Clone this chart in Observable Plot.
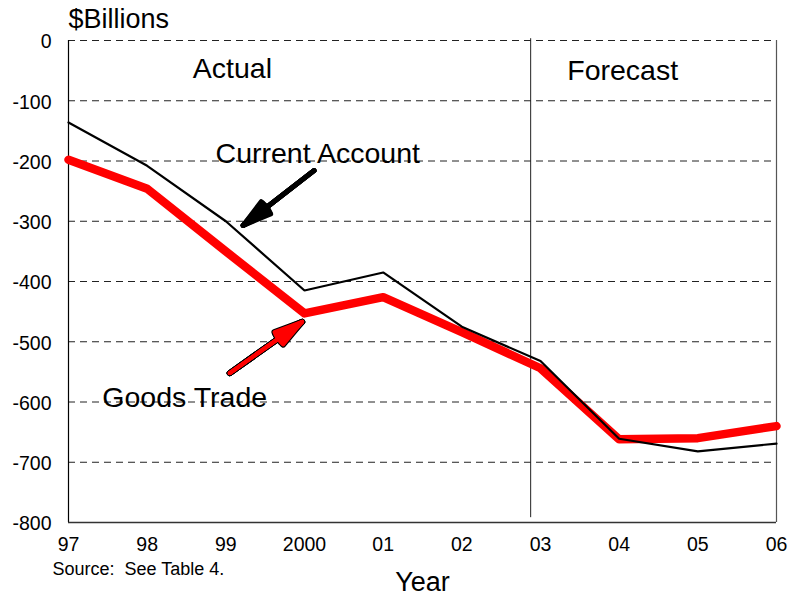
<!DOCTYPE html>
<html>
<head>
<meta charset="utf-8">
<script src="https://cdn.jsdelivr.net/npm/d3@7"></script>
<script src="https://cdn.jsdelivr.net/npm/@observablehq/plot@0.6"></script>
<style>
  html, body { margin: 0; padding: 0; background: #fff; }
  #chart svg { display: block; }
</style>
</head>
<body>
<div id="chart"></div>
<script>
// ---- data ----
const years = [1997, 1998, 1999, 2000, 2001, 2002, 2003, 2004, 2005, 2006];
const xTickLabels = ["97", "98", "99", "2000", "01", "02", "03", "04", "05", "06"];
const currentAccount = [-136, -208, -300, -415, -385, -475, -532, -661, -682, -669];
const goodsTrade = [-198, -246, -350, -453, -426, -484, -544, -662, -660, -640];
const yTicks = [0, -100, -200, -300, -400, -500, -600, -700, -800];
const gridLevels = [-100, -200, -300, -400, -500, -600, -700];
const forecastStart = 2002.875;
const labels = [
  {text: "Actual", year: 1998.58, value: -46.5},
  {text: "Forecast", year: 2003.34, value: -50},
  {text: "Current Account", year: 1998.87, value: -187.5},
  {text: "Goods Trade", year: 1997.43, value: -593}
];
const blackArrow = {x1: 2000.12, y1: -216, x2: 1999.22, y2: -307};
const redArrow = {x1: 1999.05, y1: -552, x2: 1999.97, y2: -467};
// head angles used to fill the arrow heads
const headAngles = [30, 24, 18, 12, 6];

const rowsCA = years.map((y, i) => ({year: y, value: currentAccount[i]}));
const rowsGT = years.map((y, i) => ({year: y, value: goodsTrade[i]}));

const font = "'Liberation Sans', Arial, Helvetica, sans-serif";

const headMarks = (a, stroke, width, len) =>
  headAngles.map(ang => Plot.arrow([a], {x1: "x1", y1: "y1", x2: "x2", y2: "y2", stroke, strokeWidth: width, headLength: len, headAngle: ang}));

const chart = Plot.plot({
  width: 789,
  height: 598,
  marginLeft: 68,
  marginRight: 13,
  marginTop: 40,
  marginBottom: 76,
  style: {fontFamily: font, background: "#fff", color: "#000"},
  x: {domain: [1997, 2006], label: null},
  y: {domain: [-800, 0], label: null},
  marks: [
    // grid
    Plot.ruleY(gridLevels, {stroke: "#222", strokeWidth: 1, strokeDasharray: "7,5"}),
    Plot.ruleY([0], {stroke: "#222", strokeWidth: 1, strokeDasharray: "7,5"}),
    // frame
    Plot.ruleX([1997], {stroke: "#000", strokeWidth: 1.2}),
    Plot.ruleX([2006], {stroke: "#555", strokeWidth: 1.2}),
    Plot.ruleY([-800], {stroke: "#333", strokeWidth: 1.5}),
    // forecast divider
    Plot.ruleX([forecastStart], {y1: -792, y2: 3, stroke: "#222", strokeWidth: 1}),
    // series
    Plot.line(rowsGT, {x: "year", y: "value", stroke: "#ff0000", strokeWidth: 8.5, strokeLinecap: "round", strokeLinejoin: "round"}),
    Plot.line(rowsCA, {x: "year", y: "value", stroke: "#000", strokeWidth: 2.2, strokeLinejoin: "miter"}),
    // arrows
    ...headMarks(blackArrow, "#000", 5, 15),
    ...headMarks(redArrow, "#000", 6, 15),
    ...headMarks(redArrow, "#ff0000", 3.8, 12.5),
    // annotations
    Plot.text(labels, {x: "year", y: "value", text: "text", textAnchor: "start", fontSize: 28.5, fill: "#000"}),
    // axes
    Plot.axisY({ticks: yTicks, tickSize: 0, tickPadding: 17, fontSize: 19.5, dy: 1.5, tickFormat: d => String(d)}),
    Plot.axisX({ticks: years, tickSize: 0, tickPadding: 15, fontSize: 19.5, tickFormat: d => xTickLabels[years.indexOf(d)]}),
    // titles
    Plot.text(["$Billions"], {frameAnchor: "top-left", textAnchor: "start", lineAnchor: "middle", dy: -21, fontSize: 27, fill: "#000"}),
    Plot.text(["Year"], {frameAnchor: "bottom", lineAnchor: "middle", dy: 60, fontSize: 27, fill: "#000"}),
    Plot.text(["Source:  See Table 4."], {frameAnchor: "bottom-left", textAnchor: "start", lineAnchor: "middle", dx: -16, dy: 47, fontSize: 18, fill: "#000"})
  ]
});
document.getElementById("chart").appendChild(chart);
</script>
</body>
</html>
